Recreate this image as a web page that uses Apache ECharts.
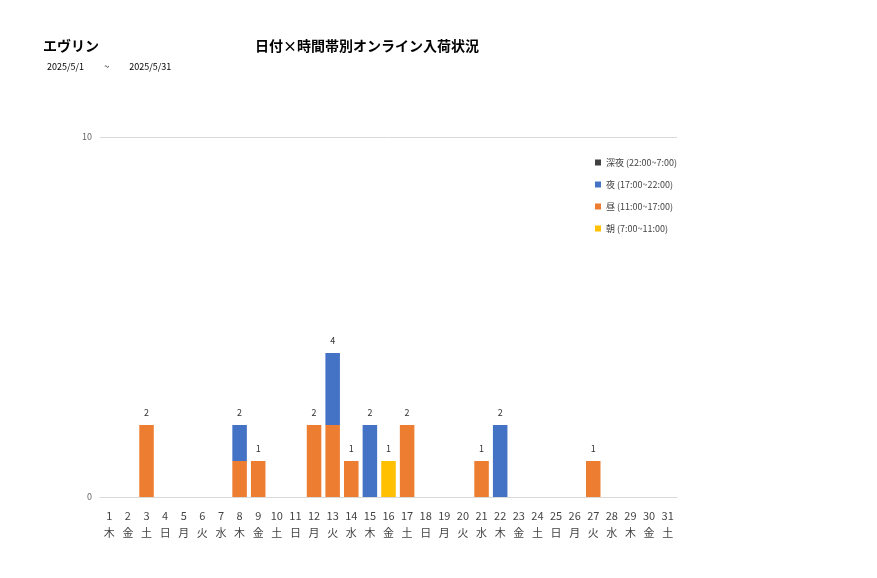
<!DOCTYPE html>
<html>
<head>
<meta charset="utf-8">
<script src="https://cdn.jsdelivr.net/npm/echarts@6/dist/echarts.min.js"></script>
<style>
body { margin: 0; background: #fff; font-family: "Noto Sans CJK JP", sans-serif; }
#chart { width: 877px; height: 578px; }
</style>
</head>
<body>
<div id="chart"></div>
<script>
const days = [];
for (let d = 1; d <= 31; d++) days.push(String(d));
const weekdays = ['木','金','土','日','月','火','水','木','金','土','日','月','火','水','木','金','土','日','月','火','水','木','金','土','日','月','火','水','木','金','土'];

const asa    = [0,0,0,0,0,0,0,0,0,0,0,0,0,0,0,1,0,0,0,0,0,0,0,0,0,0,0,0,0,0,0];
const hiru   = [0,0,2,0,0,0,0,1,1,0,0,2,2,1,0,0,2,0,0,0,1,0,0,0,0,0,1,0,0,0,0];
const yoru   = [0,0,0,0,0,0,0,1,0,0,0,0,2,0,2,0,0,0,0,0,0,2,0,0,0,0,0,0,0,0,0];
const shinya = [0,0,0,0,0,0,0,0,0,0,0,0,0,0,0,0,0,0,0,0,0,0,0,0,0,0,0,0,0,0,0];
const totals = days.map((_, i) => asa[i] + hiru[i] + yoru[i] + shinya[i]);

const chart = echarts.init(document.getElementById('chart'));
const font = '"Noto Sans CJK JP", sans-serif';

function barSeries(name, data, color) {
    return { name, type: 'bar', stack: 'all', data, barWidth: '78%', itemStyle: { color } };
}

chart.setOption({
    animation: false,
    textStyle: { fontFamily: font },
    title: [
        { text: 'エヴリン', left: 38, top: 34, textStyle: { fontSize: 14, fontWeight: 'bold', color: '#000' } },
        { text: '日付×時間帯別オンライン入荷状況', left: 250, top: 34, textStyle: { fontSize: 14, fontWeight: 'bold', color: '#000' } },
        { text: '2025/5/1          ~          2025/5/31', left: 42, top: 57, textStyle: { fontSize: 9, fontWeight: 'normal', color: '#000' } }
    ],
    legend: {
        orient: 'vertical', left: 590, top: 153, itemGap: 13,
        itemWidth: 6, itemHeight: 6, icon: 'rect',
        textStyle: { fontSize: 9, color: '#444' },
        data: ['深夜 (22:00~7:00)', '夜 (17:00~22:00)', '昼 (11:00~17:00)', '朝 (7:00~11:00)']
    },
    grid: { left: 100, right: 200, top: 137, bottom: 81 },
    xAxis: {
        type: 'category', data: days,
        axisTick: { show: false },
        axisLine: { lineStyle: { color: '#d9d9d9' } },
        axisLabel: { interval: 0, fontSize: 11, color: '#444', lineHeight: 17, margin: 10,
            formatter: (v, i) => v + '\n' + weekdays[i] }
    },
    yAxis: {
        type: 'value', min: 0, max: 10, interval: 10,
        axisLabel: { fontSize: 9, color: '#666' },
        splitLine: { lineStyle: { color: '#d9d9d9' } }
    },
    series: [
        barSeries('朝 (7:00~11:00)', asa, '#FFC000'),
        barSeries('昼 (11:00~17:00)', hiru, '#ED7D31'),
        barSeries('夜 (17:00~22:00)', yoru, '#4472C4'),
        barSeries('深夜 (22:00~7:00)', shinya, '#404040'),
        {
            name: 'total', type: 'bar', stack: 'all', data: days.map(() => 0),
            label: { show: true, position: 'top', fontSize: 9, color: '#333', distance: 8,
                formatter: p => totals[p.dataIndex] ? String(totals[p.dataIndex]) : '' },
            itemStyle: { color: 'transparent' }
        }
    ]
});
</script>
</body>
</html>
